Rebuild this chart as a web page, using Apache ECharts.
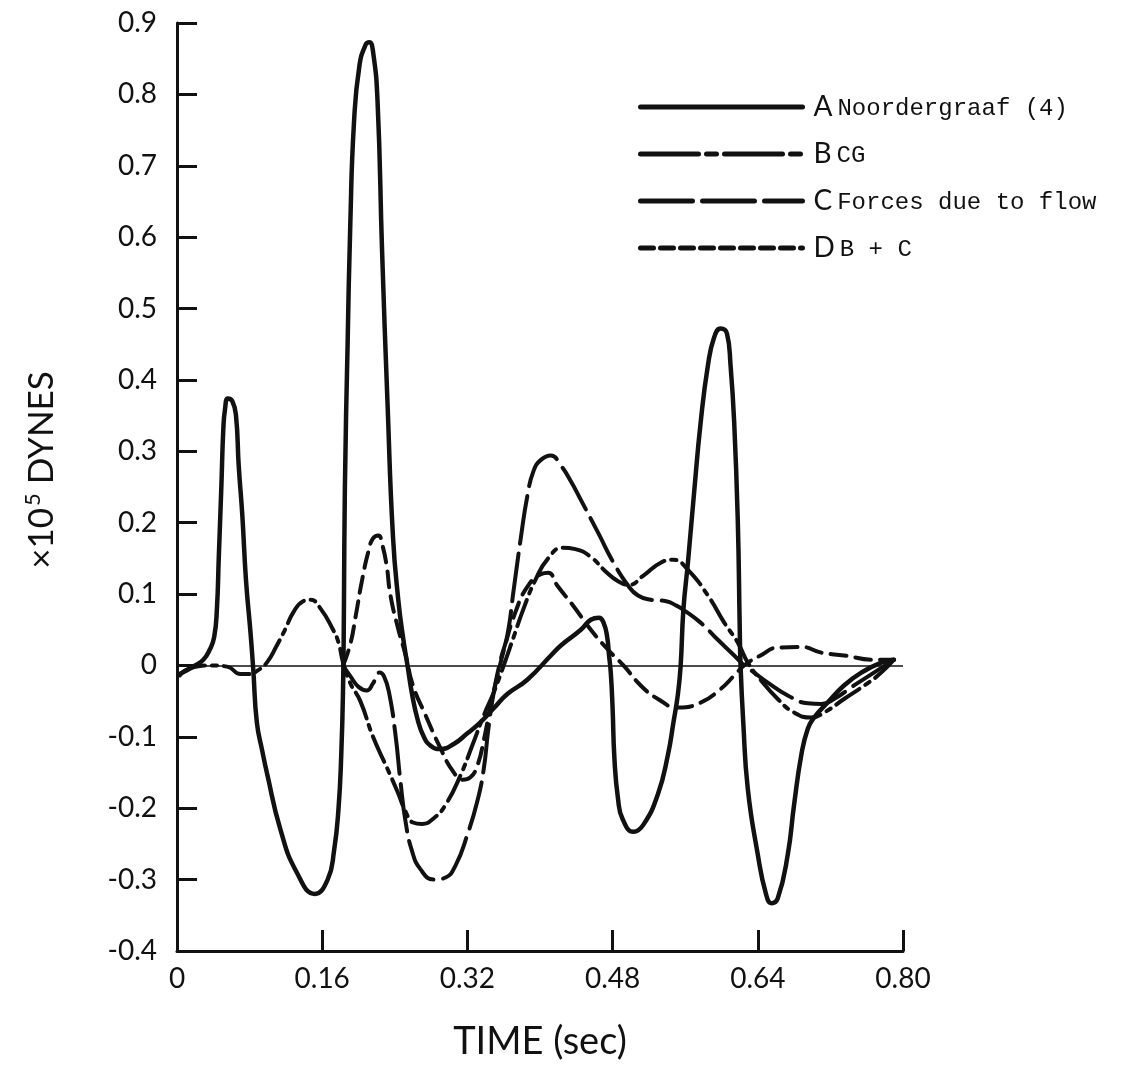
<!DOCTYPE html>
<html>
<head>
<meta charset="utf-8">
<script src="https://cdn.jsdelivr.net/npm/echarts@6/dist/echarts.min.js"></script>
<style>
html,body{margin:0;padding:0;background:#fff;}
#c{width:1134px;height:1070px;}
</style>
</head>
<body>
<div id="c"></div>
<script>
// ---- data (time in sec, force in 1e5 dynes) ----
const seriesNames = ['A Noordergraaf (4)', 'B CG', 'C Forces due to flow', 'D B + C'];

const tA = [0.003,0.020,0.029,0.036,0.041,0.044,0.046,0.049,0.051,0.053,0.056,0.061,0.065,0.068,0.072,0.076,0.081,0.084,0.088,0.094,0.099,0.114,0.132,0.152,0.166,0.173,0.178,0.181,0.183,0.184,0.185,0.188,0.191,0.195,0.201,0.208,0.212,0.216,0.221,0.226,0.232,0.238,0.244,0.249,0.254,0.259,0.265,0.272,0.280,0.290,0.305,0.320,0.334,0.349,0.364,0.386,0.412,0.423,0.445,0.456,0.465,0.470,0.474,0.476,0.478,0.480,0.482,0.486,0.491,0.503,0.514,0.530,0.541,0.547,0.552,0.555,0.558,0.563,0.570,0.577,0.585,0.592,0.599,0.606,0.610,0.614,0.618,0.620,0.621,0.624,0.629,0.640,0.649,0.655,0.662,0.673,0.680,0.688,0.695,0.702,0.717,0.735,0.754,0.776,0.790];
const vA = [-0.012,0.000,0.008,0.022,0.040,0.080,0.150,0.255,0.330,0.360,0.374,0.370,0.350,0.280,0.210,0.120,0.046,-0.005,-0.080,-0.120,-0.150,-0.230,-0.290,-0.320,-0.300,-0.260,-0.200,-0.125,-0.030,0.090,0.250,0.450,0.620,0.760,0.840,0.870,0.873,0.860,0.790,0.580,0.367,0.180,0.090,0.040,0.000,-0.040,-0.075,-0.100,-0.113,-0.117,-0.110,-0.095,-0.080,-0.060,-0.040,-0.020,0.014,0.028,0.050,0.064,0.067,0.060,0.040,0.015,-0.010,-0.060,-0.130,-0.187,-0.215,-0.233,-0.223,-0.180,-0.125,-0.080,-0.040,0.000,0.078,0.144,0.245,0.340,0.420,0.460,0.472,0.465,0.420,0.340,0.200,0.060,0.000,-0.080,-0.173,-0.265,-0.320,-0.333,-0.326,-0.265,-0.195,-0.125,-0.089,-0.073,-0.052,-0.028,-0.010,0.004,0.008];

const tB = [0.003,0.014,0.039,0.056,0.070,0.081,0.089,0.099,0.110,0.119,0.128,0.139,0.147,0.158,0.172,0.178,0.183,0.191,0.202,0.216,0.232,0.243,0.252,0.260,0.270,0.283,0.296,0.312,0.326,0.338,0.349,0.360,0.371,0.382,0.395,0.409,0.425,0.439,0.456,0.472,0.486,0.498,0.514,0.533,0.547,0.563,0.585,0.603,0.618,0.629,0.643,0.662,0.680,0.699,0.713,0.735,0.762,0.776,0.790];
const vB = [-0.014,-0.004,0.000,-0.002,-0.012,-0.012,-0.007,0.004,0.028,0.050,0.074,0.090,0.092,0.080,0.050,0.032,0.004,-0.025,-0.050,-0.100,-0.145,-0.177,-0.205,-0.220,-0.222,-0.214,-0.195,-0.155,-0.110,-0.070,-0.038,0.000,0.040,0.080,0.120,0.150,0.165,0.163,0.152,0.132,0.118,0.113,0.126,0.144,0.148,0.134,0.098,0.060,0.032,0.004,-0.020,-0.047,-0.066,-0.073,-0.066,-0.047,-0.024,-0.010,0.008];

const tC = [0.183,0.191,0.200,0.209,0.216,0.223,0.228,0.234,0.241,0.246,0.252,0.259,0.268,0.283,0.296,0.307,0.320,0.331,0.338,0.343,0.349,0.357,0.364,0.371,0.379,0.386,0.393,0.401,0.412,0.423,0.434,0.445,0.464,0.481,0.497,0.508,0.522,0.539,0.550,0.558,0.577,0.596,0.614,0.625,0.636,0.651,0.673,0.695,0.710,0.724,0.746,0.768,0.790];
const vC = [0.000,-0.015,-0.030,-0.035,-0.025,-0.010,-0.015,-0.040,-0.100,-0.160,-0.220,-0.260,-0.285,-0.300,-0.297,-0.280,-0.237,-0.190,-0.145,-0.090,-0.038,0.010,0.042,0.106,0.180,0.237,0.273,0.288,0.294,0.280,0.258,0.232,0.186,0.144,0.112,0.098,0.092,0.090,0.084,0.078,0.060,0.036,0.014,0.000,-0.010,-0.024,-0.042,-0.053,-0.054,-0.047,-0.028,-0.010,0.008];

const tD = [0.183,0.191,0.197,0.204,0.211,0.216,0.222,0.226,0.231,0.235,0.243,0.252,0.260,0.274,0.290,0.304,0.315,0.323,0.331,0.338,0.345,0.353,0.362,0.373,0.386,0.401,0.409,0.419,0.437,0.456,0.475,0.492,0.511,0.530,0.552,0.577,0.599,0.614,0.625,0.643,0.662,0.688,0.710,0.735,0.768,0.790];
const vD = [0.000,0.030,0.070,0.120,0.160,0.178,0.182,0.170,0.140,0.100,0.055,0.014,-0.028,-0.070,-0.115,-0.148,-0.160,-0.157,-0.140,-0.105,-0.060,-0.015,0.030,0.075,0.110,0.128,0.130,0.112,0.083,0.050,0.022,0.000,-0.028,-0.047,-0.059,-0.052,-0.033,-0.014,0.000,0.014,0.025,0.026,0.018,0.014,0.008,0.008];

const xTicks = [0, 0.16, 0.32, 0.48, 0.64, 0.80];

function zip(t, v) { return t.map((x, i) => [x, v[i]]); }

const chart = echarts.init(document.getElementById('c'), null, {renderer: 'canvas'});
const INK = '#111';
const curveStyles = [
  {width: 4.5, type: 'solid'},
  {width: 4, type: [28, 7, 5, 7]},
  {width: 4, type: [48, 10]},
  {width: 4, type: [16, 9]}
];
const legendStyles = [
  {width: 5, type: 'solid'},
  {width: 5, type: [58, 8, 10, 8]},
  {width: 5, type: [52, 10]},
  {width: 5, type: [13, 7]}
];
const dataSets = [zip(tA, vA), zip(tB, vB), zip(tC, vC), zip(tD, vD)];

const series = seriesNames.map((name, i) => ({
  name: name,
  type: 'line',
  data: dataSets[i],
  symbol: 'none',
  showSymbol: false,
  smooth: 0.5,
  lineStyle: {color: INK, width: curveStyles[i].width, type: curveStyles[i].type, cap: 'round', join: 'round'},
  itemStyle: {color: INK},
  z: 3,
  markLine: i === 0 ? {
    silent: true, symbol: 'none', animation: false,
    label: {show: false},
    lineStyle: {color: INK, width: 1.6, type: 'solid'},
    data: [{yAxis: 0}]
  } : undefined
}));

chart.setOption({
  animation: false,
  backgroundColor: '#fff',
  grid: {left: 177, right: 231, top: 23, bottom: 119},
  legend: {
    orient: 'vertical',
    left: 633, top: 88,
    itemWidth: 162, itemHeight: 26, itemGap: 19,
    itemStyle: {opacity: 0},
    data: seriesNames.map((n, i) => ({
      name: n,
      itemStyle: {opacity: 0},
      lineStyle: {color: INK, width: legendStyles[i].width, type: legendStyles[i].type, opacity: 1}
    })),
    formatter: function (name) {
      return '{L|' + name.charAt(0) + '}{T|' + name.slice(2) + '}';
    },
    textStyle: {
      color: INK,
      rich: {
        L: {fontFamily: 'Lato', fontSize: 28, color: INK, padding: [0, 0, 0, 6]},
        T: {fontFamily: 'Liberation Mono', fontSize: 24, color: INK, padding: [3, 0, 0, 5]}
      }
    },
    selectedMode: false
  },
  xAxis: {
    type: 'value', min: 0, max: 0.8, interval: 0.16,
    name: 'TIME (sec)', nameLocation: 'middle', nameGap: 72,
    nameTextStyle: {fontFamily: 'Lato', fontSize: 38, color: INK},
    axisLine: {show: true, onZero: false, lineStyle: {color: INK, width: 3}},
    axisTick: {show: true, inside: true, length: 21, lineStyle: {color: INK, width: 3}},
    splitLine: {show: false},
    axisLabel: {
      fontFamily: 'Lato', fontSize: 28, color: INK, margin: 14,
      formatter: function (v) { return Math.abs(v) < 1e-9 ? '0' : v.toFixed(2); }
    }
  },
  yAxis: {
    type: 'value', min: -0.4, max: 0.9, interval: 0.1,
    axisLine: {show: true, onZero: false, lineStyle: {color: INK, width: 3}},
    axisTick: {show: true, inside: true, length: 20, lineStyle: {color: INK, width: 3}},
    splitLine: {show: false},
    axisLabel: {
      fontFamily: 'Lato', fontSize: 28, color: INK, margin: 20,
      formatter: function (v) { return Math.abs(v) < 1e-9 ? '0' : v.toFixed(1); }
    }
  },
  graphic: [{
    type: 'text',
    x: 42, y: 470,
    rotation: Math.PI / 2,
    style: {
      text: '{a|×10}{s|5}{a| DYNES}',
      align: 'center', verticalAlign: 'middle',
      fill: INK,
      rich: {
        a: {fontFamily: 'Lato', fontSize: 35, fill: INK},
        s: {fontFamily: 'Lato', fontSize: 22, fill: INK, padding: [0, 0, 18, 2]}
      }
    }
  }],
  series: series
});
</script>
</body>
</html>
